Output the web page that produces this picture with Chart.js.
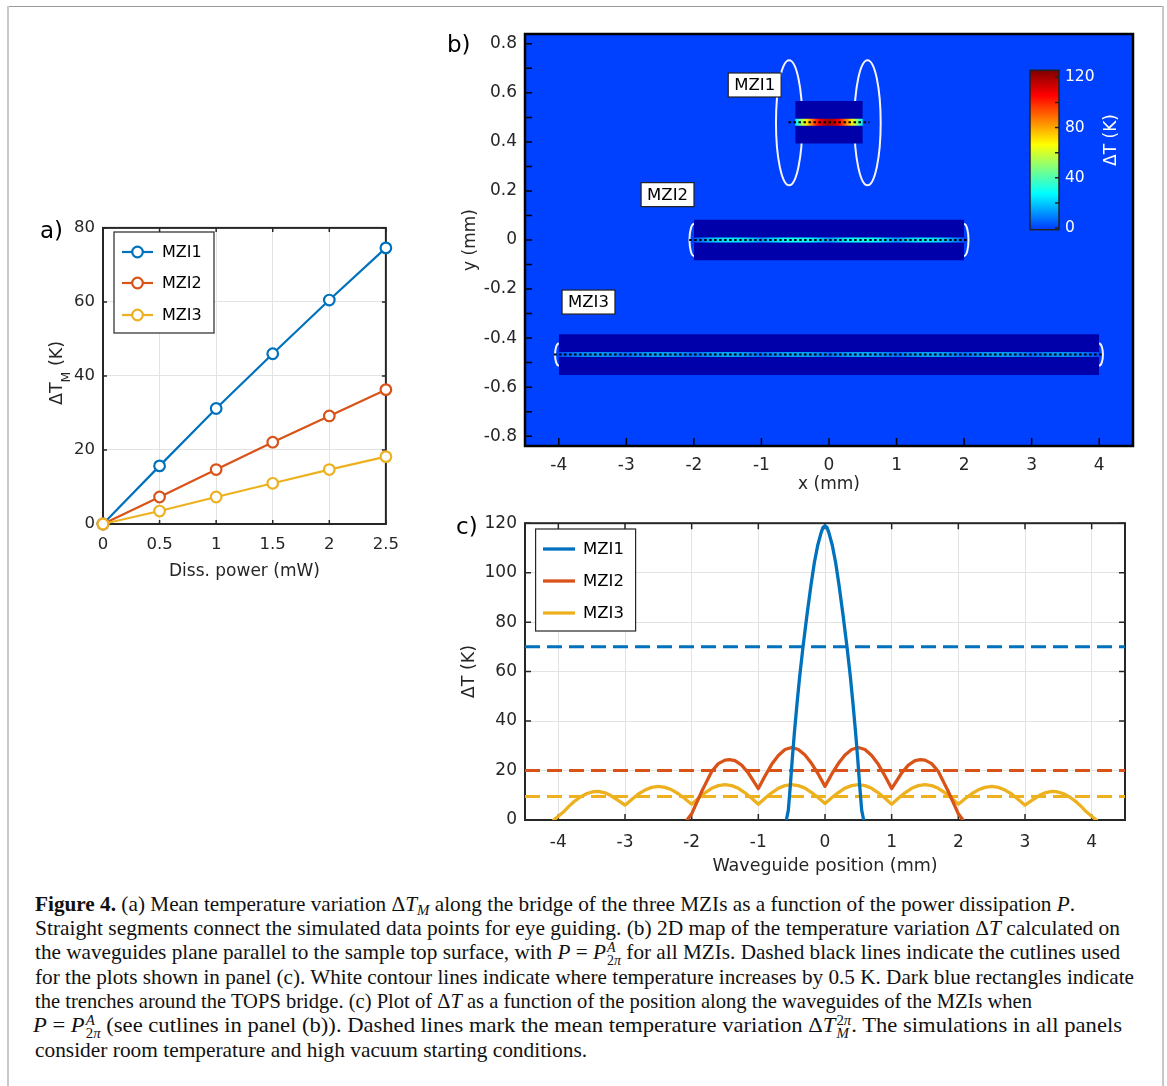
<!DOCTYPE html>
<html><head><meta charset="utf-8">
<script src="https://cdn.jsdelivr.net/npm/chart.js@4.4.1/dist/chart.umd.min.js"></script>
<style>
html,body{margin:0;padding:0;background:#fff;}
body{width:1167px;height:1086px;position:relative;overflow:hidden;font-family:"DejaVu Sans",sans-serif;}
canvas{position:absolute;}
.plab{position:absolute;font-family:"DejaVu Sans",sans-serif;font-size:23px;line-height:23px;color:#000;}
#bTop{position:absolute;left:7px;top:6px;width:1157px;height:0;border-top:1px solid #9a9a9a;}
#bLeft{position:absolute;left:7px;top:6px;width:0;height:1080px;border-left:2px solid #c8c8c8;}
#bRight{position:absolute;left:1162px;top:6px;width:0;height:1080px;border-left:2px solid #c8c8c8;}
.cap{position:absolute;left:35px;font-family:"Liberation Serif",serif;font-size:21px;line-height:24.33px;white-space:nowrap;transform-origin:0 50%;color:#111;}
.cap sub{font-size:0.7em;vertical-align:-0.3em;line-height:0;}
.stk{display:inline-block;vertical-align:-0.45em;font-size:0.66em;line-height:0.95em;margin-left:1px;text-align:left;}
.stk span{display:block;}
</style>
</head><body>
<div id="bTop"></div><div id="bLeft"></div><div id="bRight"></div>

<canvas id="ca" width="400" height="380" style="left:10px;top:210px"></canvas>
<canvas id="cb" width="710" height="495" style="left:440px;top:10px"></canvas>
<canvas id="cbar" width="110" height="190" style="left:1020px;top:55px"></canvas>
<canvas id="cc" width="700" height="380" style="left:440px;top:505px"></canvas>

<div class="plab" style="left:40px;top:219px">a)</div>
<div class="plab" style="left:447px;top:33px">b)</div>
<div class="plab" style="left:456px;top:515px">c)</div>

<div class="cap" id="l1" style="top:891.5px"><b>Figure 4.</b> (a) Mean temperature variation Δ<i>T</i><sub><i>M</i></sub> along the bridge of the three MZIs as a function of the power dissipation <i>P</i>.</div>
<div class="cap" id="l2" style="top:915.8px">Straight segments connect the simulated data points for eye guiding. (b) 2D map of the temperature variation Δ<i>T</i> calculated on</div>
<div class="cap" id="l3" style="top:940.2px">the waveguides plane parallel to the sample top surface, with <i>P</i> = <i>P</i><span class="stk"><span><i>A</i></span><span>2<i>π</i></span></span> for all MZIs. Dashed black lines indicate the cutlines used</div>
<div class="cap" id="l4" style="top:964.5px">for the plots shown in panel (c). White contour lines indicate where temperature increases by 0.5 K. Dark blue rectangles indicate</div>
<div class="cap" id="l5" style="top:988.8px">the trenches around the TOPS bridge. (c) Plot of Δ<i>T</i> as a function of the position along the waveguides of the MZIs when</div>
<div class="cap" id="l6" style="top:1013.2px;left:33px"><i>P</i> = <i>P</i><span class="stk"><span><i>A</i></span><span>2<i>π</i></span></span> (see cutlines in panel (b)). Dashed lines mark the mean temperature variation Δ<i>T</i><span class="stk"><span>2<i>π</i></span><span><i>M</i></span></span>. The simulations in all panels</div>
<div class="cap" id="l7" style="top:1037.5px">consider room temperature and high vacuum starting conditions.</div>

<script>
// ---------------- DATA ----------------
// Panel (a)
const powerMW = [0, 0.5, 1, 1.5, 2, 2.5];
const meanDT_MZI1 = [0, 15.7, 31.2, 46.0, 60.5, 74.6];
const meanDT_MZI2 = [0, 7.3, 14.7, 22.1, 29.2, 36.3];
const meanDT_MZI3 = [0, 3.5, 7.3, 11.0, 14.7, 18.2];
const aXTicks = [0, 0.5, 1, 1.5, 2, 2.5];
const aYTicks = [0, 20, 40, 60, 80];
const seriesNames = ['MZI1', 'MZI2', 'MZI3'];

// Panel (c) temperature profiles along the waveguides
const posMZI1 = [-0.58,-0.55,-0.52,-0.49,-0.46,-0.42,-0.38,-0.33,-0.27,-0.21,-0.16,-0.11,-0.06,-0.03,0,0.03,0.06,0.11,0.16,0.21,0.27,0.33,0.38,0.42,0.46,0.49,0.52,0.55,0.58];
const dtMZI1  = [0,4,14,25,35,47,58,70,83,95,104,111,116,118.3,119,118.3,116,111,104,95,83,70,58,47,35,25,14,4,0];
const posMZI2 = [-2.07,-2.0,-1.95,-1.9,-1.85,-1.8,-1.7,-1.6,-1.5,-1.43,-1.35,-1.25,-1.15,-1.07,-1.0,-0.9,-0.8,-0.7,-0.6,-0.5,-0.4,-0.3,-0.2,-0.1,0,0.1,0.2,0.3,0.4,0.5,0.6,0.7,0.8,0.9,1.0,1.07,1.15,1.25,1.35,1.43,1.5,1.6,1.7,1.8,1.85,1.9,1.95,2.0,2.07];
const dtMZI2  = [0,2.5,5.5,8.5,11.5,14.2,19.6,22.8,24.2,24.4,24.0,22.2,19.0,15.6,12.7,17.8,22.5,26.1,28.5,29.3,28.5,26.3,22.8,18.5,13.6,18.5,22.8,26.3,28.5,29.3,28.5,26.1,22.5,17.8,12.7,15.6,19.0,22.2,24.0,24.4,24.2,22.8,19.6,14.2,11.5,8.5,5.5,2.5,0];
const posMZI3 = [-4.07,-4.0,-3.92,-3.85,-3.77,-3.67,-3.57,-3.47,-3.4,-3.3,-3.22,-3.15,-3.07,-3.0,
  -2.9,-2.8,-2.7,-2.6,-2.5,-2.4,-2.3,-2.2,-2.1,-2.0,
  -1.9,-1.8,-1.7,-1.6,-1.5,-1.4,-1.3,-1.2,-1.1,-1.0,
  -0.9,-0.8,-0.7,-0.6,-0.5,-0.4,-0.3,-0.2,-0.1,0,
  0.1,0.2,0.3,0.4,0.5,0.6,0.7,0.8,0.9,1.0,
  1.1,1.2,1.3,1.4,1.5,1.6,1.7,1.8,1.9,2.0,
  2.1,2.2,2.3,2.4,2.5,2.6,2.7,2.8,2.9,3.0,
  3.07,3.15,3.22,3.3,3.4,3.47,3.57,3.67,3.77,3.85,3.92,4.0,4.07];
const dtMZI3 = [0,1.5,3.3,5.3,7.3,9.3,10.7,11.5,11.6,11.0,10.0,8.7,7.3,6.0,
  8.3,10.5,12.1,13.2,13.6,13.2,12.2,10.6,8.6,6.4,
  8.8,11.0,12.8,13.9,14.3,13.9,12.8,11.0,8.8,6.4,
  8.8,11.0,12.8,13.9,14.3,13.9,12.9,11.1,9.0,6.7,
  9.0,11.1,12.9,13.9,14.3,13.9,12.8,11.0,8.8,6.4,
  8.8,11.0,12.8,13.9,14.3,13.9,12.8,11.0,8.8,6.4,
  8.6,10.6,12.2,13.2,13.6,13.2,12.1,10.5,8.3,6.0,
  7.3,8.7,10.0,11.0,11.6,11.5,10.7,9.3,7.3,5.3,3.3,1.5,0];
const meanDT2pi = [70, 20, 9.5];       // dashed lines, per MZI
const cXRange = [-4.5, 4.5];
const cXTicks = [-4,-3,-2,-1,0,1,2,3,4];
const cYTicks = [0,20,40,60,80,100,120];

// Panel (b) 2D map geometry (mm)
const trenchX0 = [-0.5, -2.0, -4.0];
const trenchX1 = [ 0.5,  2.0,  4.0];
const trenchY0 = [0.393, -0.083, -0.550];
const trenchY1 = [0.567,  0.083, -0.384];
const cutY  = [0.48, 0.0, -0.467];
const cutX0 = [-0.60, -2.07, -4.07];
const cutX1 = [ 0.60,  2.07,  4.07];
const contourCX = [-0.59, 0.57, -2.0, 2.0, -4.0, 4.0];
const contourCY = [0.478, 0.478, 0.0, 0.0, -0.467, -0.467];
const contourRX = [0.195, 0.195, 0.065, 0.065, 0.055, 0.055];
const contourRY = [0.255, 0.255, 0.065, 0.065, 0.045, 0.045];
const labelX = [-1.10, -2.39, -3.56];
const labelY = [0.632, 0.185, -0.253];
const bXTicks = [-4,-3,-2,-1,0,1,2,3,4];
const bYTicks = [-0.8,-0.7,-0.6,-0.5,-0.4,-0.3,-0.2,-0.1,0,0.1,0.2,0.3,0.4,0.5,0.6,0.7,0.8];
const bYLabeled = [-0.8,-0.6,-0.4,-0.2,0,0.2,0.4,0.6,0.8];
const barTicks = [0,20,40,60,80,100,120];
const barLabeled = [0,40,80,120];
const barRange = [-1.3, 125.6];

// ---------------- STYLE ----------------
const colors = ['#0072BD', '#D95319', '#EDB120'];
const AX = '#262626';
const GRID = '#e3e3e3';
const mapBg = '#0040ff';
const trenchColor = '#0000aa';
const stripW = [7, 5, 5];
const cmapStops = [[0,[0,64,255]],[0.22,[0,255,255]],[0.38,[128,255,128]],[0.53,[255,255,0]],[0.84,[255,0,0]],[1,[128,0,0]]];
function cmap(t){
  t = Math.max(0, Math.min(1, t));
  for (let i=1;i<cmapStops.length;i++){
    const [t1,c1]=cmapStops[i], [t0,c0]=cmapStops[i-1];
    if (t<=t1){ const f=(t-t0)/(t1-t0); return 'rgb('+c0.map((v,k)=>Math.round(v+(c1[k]-v)*f)).join(',')+')'; }
  }
  return 'rgb(128,0,0)';
}
const FONT = '"DejaVu Sans", sans-serif';
Chart.defaults.font.family = FONT;
Chart.defaults.color = AX;
Chart.defaults.animation = false;
Chart.defaults.events = [];
Chart.defaults.plugins.legend.display = false;
Chart.defaults.plugins.tooltip.enabled = false;

function pts(xs, ys){ return xs.map((x,i)=>({x:x, y:ys[i]})); }

// frame + inward ticks + extras
const axFrame = {
  id: 'axFrame',
  beforeDatasetsDraw(chart, args, o){
    const {ctx, chartArea:a} = chart;
    ctx.save();
    if (o.bg){ ctx.fillStyle=o.bg; ctx.fillRect(a.left,a.top,a.width,a.height); }
    if (o.under) o.under(chart);
    if (o.frameFirst) drawFrame(chart, o);
    ctx.restore();
  },
  afterDatasetsDraw(chart, args, o){
    const ctx = chart.ctx;
    ctx.save();
    if (!o.frameFirst) drawFrame(chart, o);
    if (o.over) o.over(chart);
    ctx.restore();
  }
};
function drawFrame(chart, o){
  const {ctx, chartArea:a} = chart;
  const xs = chart.scales.x, ys = chart.scales.y;
  ctx.strokeStyle = o.color || AX;
  ctx.lineWidth = o.tickWidth || 1.5;
  ctx.beginPath();
  if (o.xLen) xs.ticks.forEach(t=>{ const p=xs.getPixelForValue(t.value);
    if (o.xBottom){ ctx.moveTo(p,a.bottom); ctx.lineTo(p,a.bottom-o.xLen); }
    if (o.xTop){ ctx.moveTo(p,a.top); ctx.lineTo(p,a.top+o.xLen); } });
  if (o.yLen) ys.ticks.forEach(t=>{ const p=ys.getPixelForValue(t.value);
    if (o.yLeft){ ctx.moveTo(a.left,p); ctx.lineTo(a.left+o.yLen,p); }
    if (o.yRight){ ctx.moveTo(a.right,p); ctx.lineTo(a.right-o.yLen,p); } });
  ctx.stroke();
  ctx.lineWidth = o.width || 2;
  ctx.strokeRect(a.left, a.top, a.width, a.height);
}
function drawLegend(chart, L){
  const ctx = chart.ctx;
  ctx.save();
  ctx.fillStyle = '#fff';
  ctx.fillRect(L.box[0], L.box[1], L.box[2]-L.box[0], L.box[3]-L.box[1]);
  ctx.strokeStyle = AX; ctx.lineWidth = 1.2;
  ctx.strokeRect(L.box[0], L.box[1], L.box[2]-L.box[0], L.box[3]-L.box[1]);
  ctx.font = L.font + 'px ' + FONT;
  ctx.textBaseline = 'middle'; ctx.textAlign = 'left';
  seriesNames.forEach((nm,i)=>{
    const y = L.rows[i];
    ctx.strokeStyle = colors[i]; ctx.lineWidth = L.lw;
    ctx.beginPath(); ctx.moveTo(L.lx0,y); ctx.lineTo(L.lx1,y); ctx.stroke();
    if (L.marker){ ctx.fillStyle='#fff'; ctx.beginPath(); ctx.arc((L.lx0+L.lx1)/2,y,5.3,0,2*Math.PI); ctx.fill(); ctx.stroke(); }
    ctx.fillStyle = '#000'; ctx.fillText(nm, L.tx, y+1);
  });
  ctx.restore();
}
function fixedAxis(size, horizontal){ return horizontal ? (s)=>{ s.height = size; } : (s)=>{ s.width = size; }; }
function setTicks(arr){ return (s)=>{ s.ticks = arr.map(v=>({value:v})); }; }

// ---------------- PANEL (a) ----------------
const aSeries = [meanDT_MZI1, meanDT_MZI2, meanDT_MZI3];
new Chart(document.getElementById('ca'), {
  type: 'line',
  data: { datasets: aSeries.map((s,i)=>({
    label: seriesNames[i], data: pts(powerMW, s), borderColor: colors[i], borderWidth: 2.2,
    pointRadius: 5.3, pointBorderWidth: 2.2, pointBackgroundColor: '#fff', pointBorderColor: colors[i],
    tension: 0, clip: false, order: 2-i })) },
  options: {
    responsive: false, devicePixelRatio: 1,
    layout: { autoPadding:false, padding: { top: 12, right: 18, left: 0, bottom: 0 } },
    scales: {
      x: { type:'linear', min:0, max:2.5, afterFit: fixedAxis(66,true), afterBuildTicks: setTicks(aXTicks),
           grid:{ color:GRID, drawTicks:false }, border:{display:false},
           ticks:{ font:{size:16.5}, padding:11, maxRotation:0, callback:v=>String(v) },
           title:{ display:true, text:'Diss. power (mW)', font:{size:17}, padding:{top:0,bottom:8} } },
      y: { min:0, max:80, afterFit: fixedAxis(93,false), afterBuildTicks: setTicks(aYTicks),
           grid:{ color:GRID, drawTicks:false }, border:{display:false},
           ticks:{ font:{size:16.5}, padding:8 } }
    },
    plugins: { axFrame: { frameFirst:true, xLen:4, xBottom:true, xTop:true, yLen:4, yLeft:true, yRight:true, width:2,
      over: (chart)=>{
        drawLegend(chart, { box:[104,22,204,123], rows:[42,73,105], lx0:112, lx1:143, tx:152, font:16, lw:2.2, marker:true });
        const ctx = chart.ctx; ctx.save();
        ctx.translate(52, 163); ctx.rotate(-Math.PI/2);
        ctx.fillStyle = AX; ctx.textBaseline='alphabetic'; ctx.textAlign='left';
        ctx.font = '17.5px ' + FONT; const w1 = ctx.measureText('ΔT').width, w3 = ctx.measureText(' (K)').width;
        ctx.font = '12.5px ' + FONT; const w2 = ctx.measureText('M').width;
        const x0 = -(w1+w2+w3)/2;
        ctx.font = '17.5px ' + FONT; ctx.fillText('ΔT', x0, 0); ctx.fillText(' (K)', x0+w1+w2, 0);
        ctx.font = '12.5px ' + FONT; ctx.fillText('M', x0+w1, 8);
        ctx.restore();
      } } }
  },
  plugins: [axFrame]
});

// ---------------- PANEL (b) ----------------
const profX = [posMZI1, posMZI2, posMZI3], profT = [dtMZI1, dtMZI2, dtMZI3];
function stripGradient(c, i){
  const chart = c.chart;
  if (!chart.chartArea || !chart.scales.x) return '#00ffff';
  const sx = chart.scales.x;
  const x0 = trenchX0[i], x1 = trenchX1[i];
  const p0 = sx.getPixelForValue(x0), p1 = sx.getPixelForValue(x1);
  const g = chart.ctx.createLinearGradient(p0,0,p1,0);
  profX[i].forEach((x,k)=>{ if (x>=x0 && x<=x1) g.addColorStop((x-x0)/(x1-x0), cmap(profT[i][k]/barRange[1])); });
  return g;
}
const bDatasets = [];
for (let i=0;i<3;i++){
  bDatasets.push({ label:'trench'+i, data:[{x:trenchX0[i],y:trenchY1[i]},{x:trenchX1[i],y:trenchY1[i]}],
    fill:{value:trenchY0[i]}, backgroundColor:trenchColor, borderWidth:0, borderColor:trenchColor, pointRadius:0, order:3 });
  bDatasets.push({ label:'strip'+i, data:[{x:trenchX0[i],y:cutY[i]},{x:trenchX1[i],y:cutY[i]}],
    borderColor:(c)=>stripGradient(c,i), borderWidth:stripW[i], borderCapStyle:'butt', pointRadius:0, fill:false, order:2 });
  bDatasets.push({ label:'cut'+i, data:[{x:cutX0[i],y:cutY[i]},{x:cutX1[i],y:cutY[i]}],
    borderColor:'#000', borderWidth:2, borderDash:[2.5,2.5], borderCapStyle:'butt', pointRadius:0, fill:false, order:1 });
}
new Chart(document.getElementById('cb'), {
  type: 'line',
  data: { datasets: bDatasets },
  options: {
    responsive:false, devicePixelRatio:1,
    layout: { autoPadding:false, padding: { top:24, right:17, left:0, bottom:0 } },
    scales: {
      x: { type:'linear', min:-4.5, max:4.5, afterFit: fixedAxis(59,true), afterBuildTicks: setTicks(bXTicks),
           grid:{ display:false, drawTicks:false }, border:{display:false},
           ticks:{ font:{size:17}, padding:9, maxRotation:0 },
           title:{ display:true, text:'x (mm)', font:{size:17}, padding:{top:0,bottom:10} } },
      y: { type:'linear', min:-0.84, max:0.84, afterFit: fixedAxis(85,false), afterBuildTicks: setTicks(bYTicks),
           grid:{ display:false, drawTicks:false }, border:{display:false},
           ticks:{ font:{size:17}, padding:8, callback:(v)=> bYLabeled.some(u=>Math.abs(u-v)<1e-6) ? String(Math.round(v*10)/10) : '' },
           title:{ display:true, text:'y (mm)', font:{size:17}, padding:{top:20,bottom:0} } }
    },
    plugins: { axFrame: { bg: mapBg, xLen:8, xBottom:true, yLen:7, yLeft:true, width:2.5, color:'#000',
      under: (chart)=>{
        const ctx = chart.ctx, sx = chart.scales.x, sy = chart.scales.y;
        ctx.strokeStyle = '#f4f4ff'; ctx.lineWidth = 2;
        contourCX.forEach((cx,i)=>{
          const px = sx.getPixelForValue(cx), py = sy.getPixelForValue(contourCY[i]);
          const rx = Math.abs(sx.getPixelForValue(cx+contourRX[i]) - px), ry = Math.abs(sy.getPixelForValue(contourCY[i]+contourRY[i]) - py);
          ctx.beginPath(); ctx.ellipse(px, py, rx, ry, 0, 0, 2*Math.PI); ctx.stroke();
        });
      },
      over: (chart)=>{
        const ctx = chart.ctx, sx = chart.scales.x, sy = chart.scales.y;
        ctx.font = '16.5px ' + FONT; ctx.textAlign='center'; ctx.textBaseline='middle';
        seriesNames.forEach((nm,i)=>{
          const px = sx.getPixelForValue(labelX[i]), py = sy.getPixelForValue(labelY[i]);
          const w = ctx.measureText(nm).width + 12, h = 24;
          ctx.fillStyle='#fff'; ctx.fillRect(px-w/2, py-h/2, w, h);
          ctx.strokeStyle='#222'; ctx.lineWidth=1.2; ctx.strokeRect(px-w/2, py-h/2, w, h);
          ctx.fillStyle='#000'; ctx.fillText(nm, px, py+1);
        });
      } } }
  },
  plugins: [axFrame]
});

// colorbar
new Chart(document.getElementById('cbar'), {
  type: 'bar',
  data: { labels:[''], datasets:[{ data:[[barRange[0], barRange[1]]], barPercentage:1, categoryPercentage:1,
    borderWidth:0, borderSkipped:false,
    backgroundColor:(c)=>{ const ch=c.chart; if(!ch.chartArea||!ch.scales.y) return '#00f';
      const sy=ch.scales.y; const g=ch.ctx.createLinearGradient(0, sy.getPixelForValue(0), 0, sy.getPixelForValue(barRange[1]));
      cmapStops.forEach(s=>g.addColorStop(s[0], cmap(s[0]))); return g; } }] },
  options: {
    responsive:false, devicePixelRatio:1,
    layout: { autoPadding:false, padding: { top:10, right:0, left:10, bottom:13 } },
    scales: {
      x: { display:false },
      y: { position:'right', min:barRange[0], max:barRange[1], afterFit: fixedAxis(71,false), afterBuildTicks: setTicks(barTicks),
           grid:{ display:false, drawTicks:false }, border:{display:false},
           ticks:{ color:'#fff', font:{size:15.5}, padding:6, callback:(v)=> barLabeled.includes(v) ? String(v) : '' } }
    },
    plugins: { axFrame: { yLen:4, yRight:true, width:1.5, color:'#222',
      over:(chart)=>{ const ctx=chart.ctx; ctx.save(); ctx.translate(92, 85); ctx.rotate(-Math.PI/2);
        ctx.fillStyle='#fff'; ctx.font='17px '+FONT; ctx.textAlign='center'; ctx.textBaseline='middle';
        ctx.fillText('ΔT (K)', 0, 0); ctx.restore(); } } }
  },
  plugins: [axFrame]
});

// ---------------- PANEL (c) ----------------
const cProfiles = [[posMZI1, dtMZI1], [posMZI2, dtMZI2], [posMZI3, dtMZI3]];
const cDatasets = [];
cProfiles.forEach((p,i)=>{
  cDatasets.push({ label:seriesNames[i], data:pts(p[0], p[1]), borderColor:colors[i], borderWidth:3.3,
    pointRadius:0, tension:0, borderJoinStyle:'round', borderCapStyle:'round', fill:false, order:i });
});
meanDT2pi.forEach((v,i)=>{
  cDatasets.push({ label:'mean '+seriesNames[i], data:[{x:cXRange[0],y:v},{x:cXRange[1],y:v}], borderColor:colors[i],
    borderWidth:3, borderDash:[15,7], pointRadius:0, fill:false, order:5+i });
});
new Chart(document.getElementById('cc'), {
  type:'line',
  data:{ datasets:cDatasets },
  options:{
    responsive:false, devicePixelRatio:1,
    layout:{ autoPadding:false, padding:{ top:15, right:15, left:0, bottom:0 } },
    scales:{
      x:{ type:'linear', min:cXRange[0], max:cXRange[1], afterFit: fixedAxis(65,true), afterBuildTicks: setTicks(cXTicks),
          grid:{ color:GRID, drawTicks:false }, border:{display:false},
          ticks:{ font:{size:17}, padding:12, maxRotation:0 },
          title:{ display:true, text:'Waveguide position (mm)', font:{size:17.5}, padding:{top:0,bottom:8} } },
      y:{ min:0, max:120, afterFit: fixedAxis(85,false), afterBuildTicks: setTicks(cYTicks),
          grid:{ color:GRID, drawTicks:false }, border:{display:false},
          ticks:{ font:{size:17}, padding:8 },
          title:{ display:true, text:'ΔT (K)', font:{size:17.5}, padding:{top:19,bottom:0} } }
    },
    plugins:{ axFrame:{ frameFirst:true, xLen:6, xBottom:true, xTop:true, yLen:6, yLeft:true, yRight:true, width:2,
      over:(chart)=> drawLegend(chart, { box:[95.6,24,195.6,126], rows:[44,76,108], lx0:103, lx1:135, tx:143, font:16.5, lw:3.3, marker:false }) } }
  },
  plugins:[axFrame]
});

// ---------------- caption line fitting ----------------
const capTargets = { l1:1040, l2:1085, l3:1085, l4:1099, l5:997, l6:1089 };
function fitCaption(){
  let sum = 0, n = 0;
  Object.keys(capTargets).forEach(id=>{
    const el = document.getElementById(id);
    el.style.transform = 'none';
    const w = el.getBoundingClientRect().width;
    if (w>0){ const s = Math.max(0.9, Math.min(1.15, capTargets[id]/w)); el.style.transform = 'scaleX(' + s + ')'; sum += s; n++; }
  });
  const l7 = document.getElementById('l7');
  if (n) l7.style.transform = 'scaleX(' + (sum/n) + ')';
}
fitCaption();
if (document.fonts && document.fonts.ready) document.fonts.ready.then(fitCaption);
</script>
</body></html>
